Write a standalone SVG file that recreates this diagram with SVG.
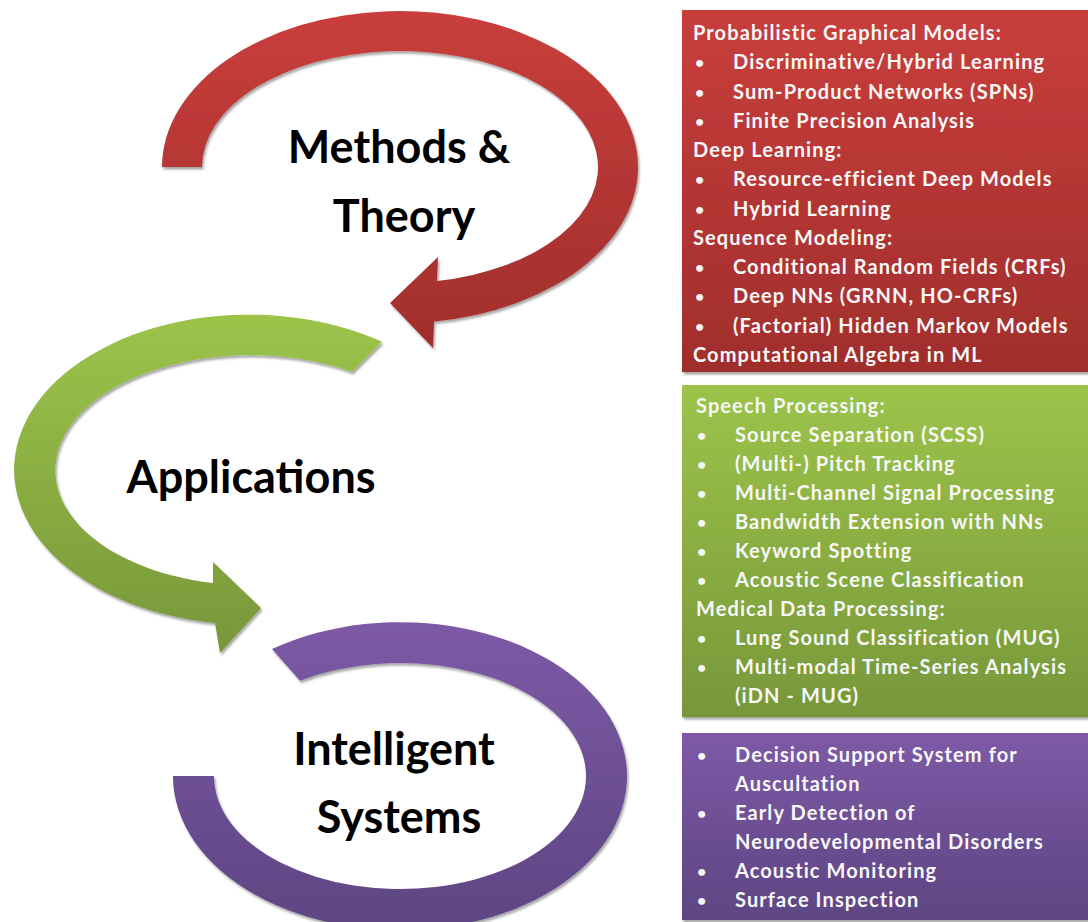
<svg xmlns="http://www.w3.org/2000/svg" width="1088" height="922" viewBox="0 0 1088 922">
<defs>
<linearGradient id="gRed" x1="0" y1="0" x2="0" y2="1"><stop offset="0" stop-color="#C93E3C"/><stop offset="1" stop-color="#A02E2C"/></linearGradient>
<linearGradient id="gGreen" x1="0" y1="0" x2="0" y2="1"><stop offset="0" stop-color="#9CC44A"/><stop offset="1" stop-color="#77973A"/></linearGradient>
<linearGradient id="gPurple" x1="0" y1="0" x2="0" y2="1"><stop offset="0" stop-color="#7D5AA6"/><stop offset="1" stop-color="#5E4583"/></linearGradient>
<filter id="sh" x="-10%" y="-10%" width="120%" height="120%"><feDropShadow dx="1.5" dy="2.5" stdDeviation="1.2" flood-color="#000" flood-opacity="0.35"/></filter>
<style>
.big{font-family:Lato,"Liberation Sans",sans-serif;font-weight:bold;font-size:45px;fill:#000;text-anchor:middle}
.t{font-family:Lato,"Liberation Sans",sans-serif;font-weight:bold;font-size:20px;letter-spacing:1.1px;fill:#F7F7F7}
.b{font-family:Lato,"Liberation Sans",sans-serif;font-weight:bold;font-size:16px;fill:#F7F7F7}
</style>
</defs>
<g id="connectors">
<path id="arrow-red" filter="url(#sh)" fill="url(#gRed)" d="M162,167 A238,156 0 1 1 434,321.4 L433,348 L390,303 L438,257 L437,281 A198,116 0 1 0 202,167 Z"/>
<path id="arrow-green" filter="url(#sh)" fill="url(#gGreen)" d="M382,341.8 A235,155 0 1 0 215,623 L220,653 L261,608 L213,562 L213,583 A195,115 0 1 1 352,372 Z"/>
<path id="arrow-purple" filter="url(#sh)" fill="url(#gPurple)" d="M272,649 A227,154 0 1 1 173,776 L214,776 A186,113 0 1 0 300,680.7 Z"/>
</g>
<g id="methods">
<text class="big" x="399" y="163">Methods &amp;</text>
<text class="big" x="404" y="232">Theory</text>
</g>
<g id="applications">
<text class="big" x="251" y="493">Applications</text>
</g>
<g id="intelligent">
<text class="big" x="394" y="765">Intelligent</text>
<text class="big" x="399" y="833">Systems</text>
</g>
<g id="box-methods">
<rect x="682" y="10" width="410" height="362" fill="url(#gRed)" filter="url(#sh)"/>
<text class="t" x="693" y="40">Probabilistic Graphical Models:</text>
<text class="b" x="695" y="68.3">•</text><text class="t" x="733" y="69.3">Discriminative/Hybrid Learning</text>
<text class="b" x="695" y="97.5">•</text><text class="t" x="733" y="98.5">Sum-Product Networks (SPNs)</text>
<text class="b" x="695" y="126.8">•</text><text class="t" x="733" y="127.8">Finite Precision Analysis</text>
<text class="t" x="693" y="157">Deep Learning:</text>
<text class="b" x="695" y="185.3">•</text><text class="t" x="733" y="186.3">Resource-efficient Deep Models</text>
<text class="b" x="695" y="214.5">•</text><text class="t" x="733" y="215.5">Hybrid Learning</text>
<text class="t" x="693" y="244.8">Sequence Modeling:</text>
<text class="b" x="695" y="273">•</text><text class="t" x="733" y="274">Conditional Random Fields (CRFs)</text>
<text class="b" x="695" y="302.3">•</text><text class="t" x="733" y="303.3">Deep NNs (GRNN, HO-CRFs)</text>
<text class="b" x="695" y="331.5">•</text><text class="t" x="733" y="332.5">(Factorial) Hidden Markov Models</text>
<text class="t" x="693" y="361.7">Computational Algebra in ML</text>
</g>
<g id="box-applications">
<rect x="682" y="385" width="410" height="332" fill="url(#gGreen)" filter="url(#sh)"/>
<text class="t" x="696" y="413">Speech Processing:</text>
<text class="b" x="697" y="441">•</text><text class="t" x="735" y="442">Source Separation (SCSS)</text>
<text class="b" x="697" y="470">•</text><text class="t" x="735" y="471">(Multi-) Pitch Tracking</text>
<text class="b" x="697" y="499">•</text><text class="t" x="735" y="500">Multi-Channel Signal Processing</text>
<text class="b" x="697" y="528">•</text><text class="t" x="735" y="529">Bandwidth Extension with NNs</text>
<text class="b" x="697" y="557">•</text><text class="t" x="735" y="558">Keyword Spotting</text>
<text class="b" x="697" y="586">•</text><text class="t" x="735" y="587">Acoustic Scene Classification</text>
<text class="t" x="696" y="616">Medical Data Processing:</text>
<text class="b" x="697" y="644">•</text><text class="t" x="735" y="645">Lung Sound Classification (MUG)</text>
<text class="b" x="697" y="673">•</text><text class="t" x="735" y="674">Multi-modal Time-Series Analysis</text>
<text class="t" x="735" y="703">(iDN - MUG)</text>
</g>
<g id="box-intelligent">
<rect x="682" y="733" width="410" height="187" fill="url(#gPurple)" filter="url(#sh)"/>
<text class="b" x="697" y="761">•</text><text class="t" x="735" y="762">Decision Support System for</text>
<text class="t" x="735" y="791">Auscultation</text>
<text class="b" x="697" y="819">•</text><text class="t" x="735" y="820">Early Detection of</text>
<text class="t" x="735" y="849">Neurodevelopmental Disorders</text>
<text class="b" x="697" y="877">•</text><text class="t" x="735" y="878">Acoustic Monitoring</text>
<text class="b" x="697" y="906">•</text><text class="t" x="735" y="907">Surface Inspection</text>
</g>
</svg>
